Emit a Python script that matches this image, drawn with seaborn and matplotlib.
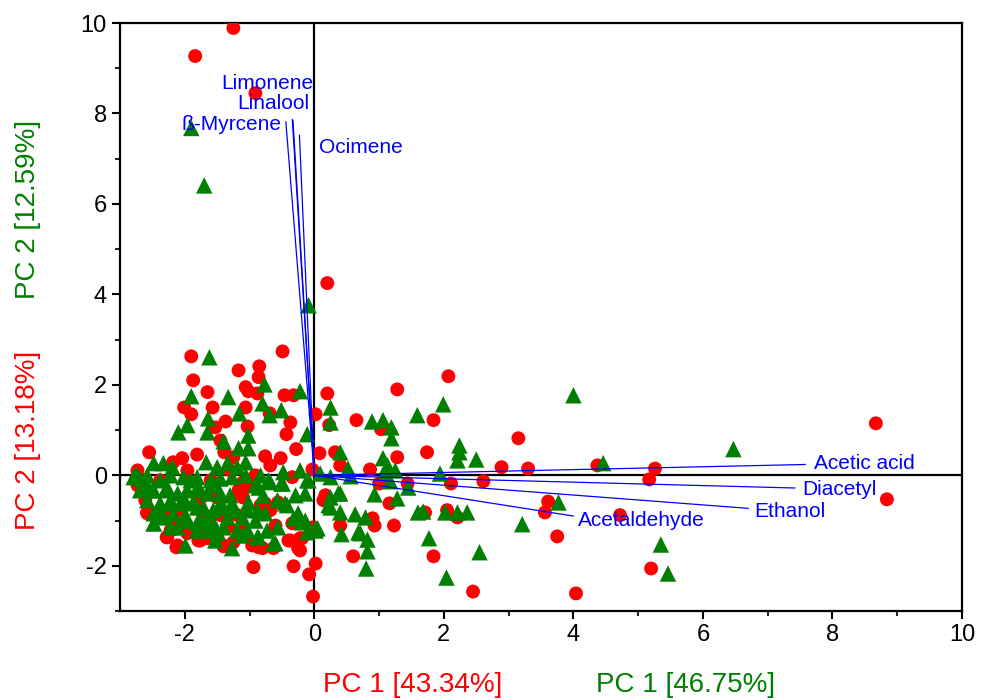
import seaborn as sns
import matplotlib.pyplot as plt
import pandas as pd

# scores, sample set 1 (red circles)
red_x = [-1.25, -1.84, -0.91, 0.20, 8.67, 8.84, 5.26, 5.17, 4.72, 5.20, 4.04, 2.45, 3.75, 3.61, 3.56,
         4.37, 3.30, 2.89, 3.15, 2.07, 1.28, 1.84, 1.74, 2.11, 2.61, 1.84, 0.60, 2.05, 2.21, 1.71,
         1.23, 0.93, 0.40, 1.16, 0.90, 1.00, 1.44, 0.86, 1.28, 1.03, 0.65, 0.02, 0.23, 0.32, 0.08,
         -0.03, 0.20, 0.02, -0.08, -0.02, -0.19, -1.90, -0.49, -1.87, -1.17, -0.85, -0.86, -1.06, -1.02, -0.88,
         -1.65, -2.01, -1.90, -1.57, -1.06, -0.69, -0.46, -0.32, -0.37, -0.43, -0.28, -1.53, -1.37, -1.03, -1.45,
         -1.39, -1.25, -1.81, -2.55, -2.04, -2.18, -1.96, -2.73, -0.76, -0.68, -0.52, -0.34, -2.73, -1.17, -1.02,
         -1.10, 0.14, -2.58, -2.27, -2.15, -2.28, -2.13, -1.79, -1.65, -1.40, -1.25, -0.94, -0.80, -0.63, -0.40,
         -0.22, -0.25, -0.02, -0.94, -0.32, -0.83, -0.68, -1.19, -1.10, -1.76, -2.10, -1.50, -1.45, -1.96, -1.71,
         -2.22, -2.61, -2.38, -1.60, -1.30, -0.91, -0.60, -1.14, 0.40, 0.17,
         -2.69, -2.58, -2.22, -2.27, -2.11, -1.76, -1.40, -1.96, -1.65, -1.81, -1.60,
         -1.17, -1.06, -0.76, -0.56, -0.34, -1.33, -0.86, -0.37, -0.22, -0.96]
red_y = [9.89, 9.27, 8.45, 4.25, 1.15, -0.53, 0.15, -0.09, -0.88, -2.06, -2.61, -2.57, -1.35, -0.58, -0.82,
         0.22, 0.15, 0.18, 0.82, 2.19, 1.90, 1.22, 0.51, -0.18, -0.13, -1.79, -1.79, -0.77, -0.93, -0.82,
         -1.11, -1.11, -1.11, -0.62, -0.95, -0.18, -0.18, 0.13, 0.40, 1.02, 1.22, 1.35, 1.11, 0.51, 0.49,
         0.13, 1.81, -1.95, -2.19, -2.68, -1.39, 2.63, 2.74, 2.10, 2.32, 2.41, 2.17, 1.95, 1.86, 1.81,
         1.84, 1.50, 1.35, 1.50, 1.50, 1.37, 1.77, 1.77, 1.17, 0.91, 0.58, 1.06, 1.19, 1.08, 0.77,
         0.51, 0.40, 0.46, 0.51, 0.38, 0.29, 0.11, 0.11, 0.42, 0.22, 0.38, -0.04, -0.22, -0.40, -0.24,
         -0.15, -0.55, -0.84, -0.93, -1.04, -1.37, -1.59, -1.44, -1.39, -1.57, -1.48, -1.50, -1.61, -1.61, -1.44,
         -1.39, -1.61, -1.15, -2.03, -2.01, -0.66, -0.77, -0.88, -0.49, -0.51, -0.77, -0.49, -0.88, -1.22, -0.93,
         -1.22, -0.55, -0.11, -0.11, 0.11, 0.00, -1.11, -1.22, 0.22, -0.44,
         -0.18, -0.82, -0.84, -1.37, -1.55, -1.44, -1.55, -1.28, -1.28, -0.62, -0.40,
         -0.33, -0.22, -0.62, -0.60, -1.06, -1.15, -1.59, -1.44, -1.66, -1.55]

# scores, sample set 2 (green triangles)
green_x = [-1.90, -1.70, -0.09, 4.00, 6.47, 4.46, 3.77, 3.21, 5.35, 5.46, 2.55, 1.99, 1.59, 0.89, 1.06,
           1.19, 1.19, 0.25, 0.25, 0.40, 2.24, 2.24, 2.21, 2.50, 1.06, 1.13, 1.25, 0.52, 0.56, 1.10,
           1.17, 1.94, 0.25, 1.45, 0.40, 0.93, 1.28, 0.25, 0.25, 0.40, 0.63, 0.79, 1.68, 2.02, 2.21,
           2.36, 0.42, 0.71, 0.82, 0.82, 1.77, 0.80, 2.04, -1.62, -0.77, -0.22, -1.90, -1.33, -0.80, -1.16,
           -0.69, -0.51, -1.64, -1.96, -2.10, -1.65, -1.02, -1.40, -0.11, -1.17, -1.02, -2.75, -2.48, -2.33, -2.19,
           -1.67, -1.50, -1.34, -1.19, -1.06, -0.48, -0.68, -0.51, -0.11, 0.09, 0.37, 0.22, 0.68, 1.60, 0.05,
           -0.19, -0.42, -0.57, -0.79, -0.88, -1.03, -1.19, -0.88, -0.73, -1.50, -1.65, -1.81, -2.02, -2.22, -2.48,
           -2.58, -2.38, -2.48, -2.11, -1.81, -1.64, -1.34, -1.45, -1.22, -1.03, -0.63, -0.32, -0.11, 0.02, -2.69,
           -2.30, -1.91, -1.76, -1.53, -1.30, -0.91, -1.99, -1.53, -1.27, -1.99, -0.83, -0.29, -0.22,
           -2.79, -2.58, -2.38, -2.22, -2.02, -1.81, -1.60, -1.45, -2.69, -2.50, -2.27, -2.11, -1.96, -1.81, -1.65,
           -1.45, -2.58, -2.38, -2.22, -2.02, -1.87, -1.71, -1.56, -1.40, -2.48, -2.33, -2.18, -1.96, -1.76, -1.56,
           -1.40, -2.48, -2.22, -1.81, -1.50,
           -1.27, -1.06, -0.71, -0.49, -0.09, -0.86, -0.14, -1.27, -1.02, -0.76, -0.45, -0.25, -1.11, -0.91, -0.56,
           -0.14, 0.02, -0.60, -1.11, -0.86]
green_y = [7.68, 6.41, 3.76, 1.77, 0.58, 0.27, -0.60, -1.08, -1.53, -2.17, -1.70, 1.57, 1.33, 1.19, 1.22,
           1.06, 0.82, 1.50, 1.17, 0.51, 0.66, 0.51, 0.33, 0.35, 0.38, 0.22, 0.11, 0.15, -0.02, 0.04,
           -0.13, 0.04, -0.04, -0.27, -0.40, -0.42, -0.51, -0.49, -0.71, -0.82, -0.86, -0.93, -0.80, -0.82, -0.82,
           -0.82, -1.30, -1.28, -1.42, -1.68, -1.39, -2.06, -2.26, 2.61, 2.01, 1.86, 1.75, 1.73, 1.59, 1.37,
           1.33, 1.44, 1.26, 1.11, 0.95, 0.95, 0.88, 0.75, 0.91, 0.60, 0.60, 0.02, 0.27, 0.27, 0.18,
           0.29, 0.18, 0.27, 0.18, 0.29, 0.07, -0.15, -0.18, -0.11, 0.04, -0.40, -0.66, -1.26, -0.82, -1.17,
           -1.04, -0.66, -0.55, -0.44, -0.77, -1.22, -1.22, -1.37, -1.22, -1.22, -0.93, -0.71, -0.49, -0.62, -0.33,
           -0.22, -0.77, -1.06, -1.15, -1.06, -1.22, -0.93, -0.62, -0.77, -0.77, -1.50, -0.95, -1.26, -1.22, -0.07,
           -0.33, -0.11, -0.33, -0.22, -0.44, -0.22, -0.88, -1.44, -1.61, -1.55, 0.00, -0.44, 0.11,
           -0.04, 0.00, -0.11, 0.00, -0.04, -0.04, -0.11, -0.07, -0.33, -0.33, -0.27, -0.40, -0.33, -0.29, -0.40,
           -0.40, -0.55, -0.62, -0.55, -0.62, -0.60, -0.71, -0.77, -0.71, -0.84, -0.93, -0.84, -1.00, -1.00, -1.06,
           -1.15, -1.06, -1.15, -1.22, -1.28,
           -0.04, 0.00, -0.11, -0.18, -0.11, -0.27, -0.40, -0.62, -0.60, -0.84, -0.62, -0.84, -0.93, -1.00, -1.15,
           -1.00, -1.17, -1.50, -1.33, -1.37]

# loadings
load_names = ["Limonene", "Linalool", "\u00df-Myrcene", "Ocimene",
              "Acetic acid", "Diacetyl", "Ethanol", "Acetaldehyde"]
load_x = [-0.34, -0.33, -0.44, -0.23, 7.58, 7.42, 6.70, 4.00]
load_y = [7.87, 7.85, 7.82, 7.52, 0.24, -0.28, -0.73, -0.90]

red_df = pd.DataFrame({"pc1": red_x, "pc2": red_y})
green_df = pd.DataFrame({"pc1": green_x, "pc2": green_y})

sns.set_style("ticks")
plt.rcParams['font.family'] = ['Liberation Sans', 'DejaVu Sans']
plt.rcParams['axes.unicode_minus'] = False

fig = plt.figure(figsize=(9.87, 7), dpi=100)
ax = fig.add_axes([0.1216, 0.1271, 0.8531, 0.8400])

ax.axhline(0, color='black', lw=1.6, zorder=1)
ax.axvline(0, color='black', lw=1.6, zorder=1)

sns.scatterplot(data=red_df, x="pc1", y="pc2", color='#ff0000', marker='o', s=100,
                edgecolor='none', ax=ax, zorder=3)
sns.scatterplot(data=green_df, x="pc1", y="pc2", color='#007f00', marker='^', s=140,
                edgecolor='none', ax=ax, zorder=4)

# label placement (offset in points from vector tip)
offsets = [(15, 26, 'right'), (12, 12, 'right'), (-3, -2, 'right'), (14, -9, 'left'),
           (6, 1, 'left'), (5, -1, 'left'), (4, -2, 'left'), (3, -3, 'left')]
for name, lx, ly, (dx, dy, ha) in zip(load_names, load_x, load_y, offsets):
    ax.plot([0, lx], [0, ly], color='#0000ff', lw=0.9, zorder=5)
    ax.annotate(name, (lx, ly), xytext=(dx, dy), textcoords='offset points',
                ha=ha, va='center', color='#0000ff', fontsize=15, zorder=6)

ax.set_xlim(-3, 10)
ax.set_ylim(-3, 10)
ax.set_xticks([-2, 0, 2, 4, 6, 8, 10])
ax.set_yticks([-2, 0, 2, 4, 6, 8, 10])
ax.set_xticks([-1, 1, 3, 5, 7, 9], minor=True)
ax.set_yticks([-3, -1, 1, 3, 5, 7, 9], minor=True)
ax.tick_params(which='major', direction='out', length=6, width=1.5, labelsize=17, colors='black')
ax.tick_params(which='minor', direction='out', length=3.5, width=1.5)
for sp in ax.spines.values():
    sp.set_linewidth(1.6)
    sp.set_color('black')
ax.set_xlabel("")
ax.set_ylabel("")

fig.text(0.418, 0.021, "PC 1 [43.34%]", color='#ff0000', fontsize=20, ha='center', va='center')
fig.text(0.695, 0.021, "PC 1 [46.75%]", color='#007f00', fontsize=20, ha='center', va='center')
fig.text(0.028, 0.371, "PC 2 [13.18%]", color='#ff0000', fontsize=20, ha='center', va='center', rotation=90)
fig.text(0.028, 0.701, "PC 2 [12.59%]", color='#007f00', fontsize=20, ha='center', va='center', rotation=90)

fig.savefig("out.png", dpi=100)
